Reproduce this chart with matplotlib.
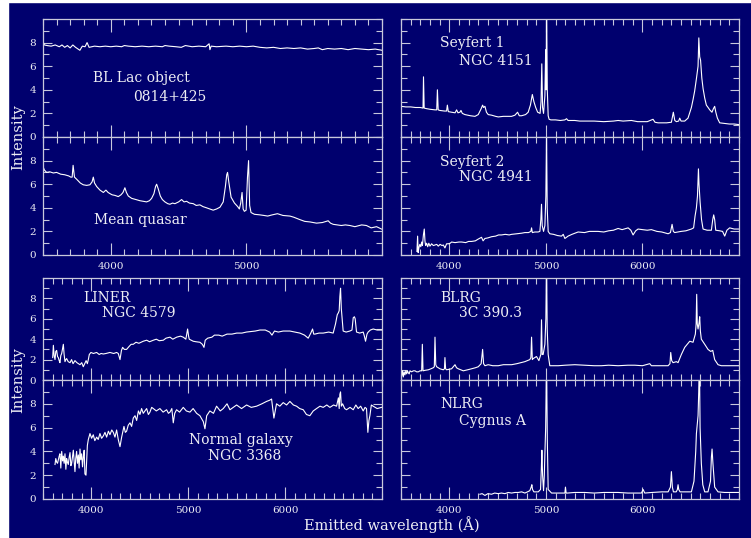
import numpy as np
import matplotlib.pyplot as plt
from matplotlib.ticker import MultipleLocator
from matplotlib.patches import Rectangle

# spectra (wavelength in Angstrom, intensity)
bllac_wave = [3500, 3510, 3530, 3560, 3590, 3620, 3640, 3660, 3680, 3700, 3720, 3740, 3772, 3790,
              3810, 3825, 3840, 3880, 3920, 3960, 4000, 4040, 4080, 4100, 4130, 4180, 4230, 4280,
              4330, 4380, 4400, 4430, 4480, 4520, 4550, 4600, 4650, 4700, 4725, 4731, 4740, 4780,
              4850, 4900, 4950, 5000, 5050, 5100, 5150, 5200, 5250, 5300, 5350, 5400, 5450, 5500,
              5530, 5560, 5600, 5650, 5700, 5750, 5800, 5850, 5900, 5950, 6000]
bllac_flux = [8.1, 7.8, 7.75, 7.7, 7.8, 7.65, 7.8, 7.6, 7.75, 7.55, 7.8, 7.6, 7.35, 7.7,
              7.65, 8.0, 7.6, 7.7, 7.65, 7.7, 7.65, 7.7, 7.65, 7.75, 7.7, 7.65, 7.7, 7.65,
              7.7, 7.65, 7.75, 7.7, 7.65, 7.6, 7.75, 7.65, 7.7, 7.65, 7.9, 7.4, 7.7, 7.65,
              7.7, 7.65, 7.7, 7.65, 7.7, 7.6, 7.55, 7.6, 7.5, 7.55, 7.5, 7.55, 7.45, 7.5,
              7.55, 7.4, 7.5, 7.45, 7.5, 7.4, 7.5, 7.45, 7.4, 7.45, 7.35]

quasar_wave = [3500, 3510, 3527, 3550, 3576, 3600, 3630, 3660, 3690, 3705, 3715, 3722, 3732, 3750,
               3775, 3797, 3822, 3846, 3862, 3871, 3880, 3896, 3920, 3945, 3964, 3980, 3994, 4010,
               4031, 4055, 4075, 4090, 4104, 4115, 4129, 4154, 4185, 4215, 4240, 4264, 4285, 4301,
               4318, 4330, 4338, 4350, 4365, 4380, 4399, 4420, 4436, 4455, 4473, 4500, 4522, 4540,
               4559, 4580, 4608, 4630, 4657, 4680, 4706, 4730, 4755, 4780, 4805, 4829, 4845, 4855,
               4861, 4870, 4887, 4912, 4936, 4948, 4958, 4968, 4976, 4985, 4998, 5008, 5016, 5024,
               5034, 5059, 5100, 5130, 5157, 5190, 5229, 5270, 5321, 5350, 5394, 5430, 5470, 5517,
               5560, 5603, 5620, 5640, 5700, 5730, 5763, 5800, 5850, 5885, 5920, 5960, 5996]
quasar_flux = [7.5, 7.2, 7.0, 7.05, 6.95, 7.0, 6.85, 6.8, 6.7, 6.6, 6.6, 7.6, 6.6, 6.4,
               6.1, 5.95, 5.9, 5.95, 6.2, 6.6, 6.1, 5.8, 5.5, 5.3, 5.5, 5.3, 5.2, 5.1,
               5.05, 4.95, 5.1, 5.3, 5.7, 5.3, 5.0, 4.8, 4.7, 4.6, 4.55, 4.5, 4.6, 4.8,
               5.2, 5.8, 6.0, 5.6, 5.0, 4.7, 4.5, 4.35, 4.3, 4.4, 4.35, 4.5, 4.7, 4.5,
               4.55, 4.4, 4.35, 4.2, 4.25, 4.1, 4.0, 3.9, 3.8, 3.9, 4.05, 4.5, 5.8, 6.8,
               7.0, 6.2, 4.9, 4.4, 4.1, 3.9, 4.4, 5.3, 3.9, 3.7, 3.8, 6.6, 8.0, 4.2,
               3.6, 3.45, 3.4, 3.35, 3.3, 3.4, 3.5, 3.35, 3.3, 3.2, 3.0, 2.85, 2.8, 2.7,
               2.75, 2.9, 2.7, 2.6, 2.5, 2.55, 2.5, 2.4, 2.55, 2.5, 2.3, 2.4, 2.2]

sy1_wave = [3500, 3550, 3600, 3650, 3700, 3728, 3733, 3740, 3766, 3800, 3852, 3870, 3877, 3885,
            3903, 3950, 3972, 3980, 3990, 4024, 4060, 4076, 4090, 4110, 4121, 4135, 4162, 4220,
            4266, 4300, 4330, 4345, 4355, 4369, 4385, 4403, 4438, 4480, 4507, 4560, 4645, 4680,
            4707, 4725, 4748, 4790, 4817, 4840, 4860, 4876, 4895, 4915, 4940, 4950, 4958, 4966,
            4976, 4990, 4998, 5003, 5007, 5015, 5024, 5034, 5052, 5100, 5150, 5197, 5214, 5230,
            5300, 5350, 5403, 5500, 5600, 5700, 5748, 5800, 5886, 5950, 5990, 6050, 6110, 6130,
            6162, 6250, 6300, 6320, 6335, 6352, 6375, 6386, 6400, 6438, 6472, 6507, 6525, 6541,
            6560, 6576, 6584, 6593, 6602, 6615, 6628, 6645, 6662, 6680, 6697, 6720, 6735, 6748,
            6760, 6776, 6800, 6850, 6900, 6950, 7000]
sy1_flux = [2.6, 2.55, 2.55, 2.5, 2.5, 2.45, 5.1, 2.45, 2.4, 2.35, 2.3, 2.3, 4.0, 2.3,
            2.25, 2.2, 2.2, 2.7, 2.15, 2.1, 2.05, 2.3, 2.05, 2.1, 2.25, 2.0, 1.9, 1.8,
            1.75, 1.9, 2.4, 2.7, 2.5, 2.6, 2.1, 1.9, 1.85, 1.75, 1.7, 1.75, 1.75, 1.85,
            2.1, 1.8, 1.8, 1.9, 2.1, 2.7, 3.6, 3.0, 2.5, 2.1, 2.0, 3.0, 6.2, 2.5,
            2.0, 3.5, 7.4, 4.0, 12.0, 4.0, 1.8, 1.5, 1.45, 1.45, 1.4, 1.45, 1.55, 1.4,
            1.4, 1.35, 1.35, 1.35, 1.3, 1.35, 1.4, 1.35, 1.4, 1.3, 1.3, 1.3, 1.5, 1.25,
            1.2, 1.2, 1.25, 2.1, 1.4, 1.3, 1.35, 1.6, 1.35, 1.35, 1.6, 2.5, 3.2, 3.9,
            5.0, 6.0, 8.4, 6.8, 6.5, 5.0, 4.1, 3.3, 2.7, 2.5, 2.3, 2.1, 2.4, 2.6,
            2.1, 1.6, 1.2, 1.15, 1.1, 1.1, 1.05]

sy2_wave = [3665, 3672, 3678, 3685, 3695, 3705, 3714, 3722, 3732, 3741, 3748, 3755, 3765, 3776,
            3788, 3800, 3817, 3835, 3852, 3870, 3886, 3905, 3925, 3938, 3955, 3972, 3990, 4010,
            4024, 4060, 4100, 4128, 4170, 4200, 4231, 4270, 4300, 4334, 4350, 4369, 4400, 4438,
            4480, 4510, 4541, 4580, 4620, 4645, 4700, 4750, 4783, 4820, 4845, 4852, 4860, 4886,
            4920, 4938, 4948, 4955, 4962, 4976, 4990, 5000, 5007, 5014, 5024, 5041, 5080, 5120,
            5162, 5180, 5197, 5230, 5270, 5334, 5400, 5450, 5541, 5600, 5650, 5700, 5748, 5790,
            5852, 5880, 5903, 5930, 5955, 6000, 6050, 6093, 6150, 6200, 6266, 6290, 6307, 6320,
            6334, 6400, 6450, 6507, 6530, 6545, 6559, 6570, 6580, 6586, 6597, 6612, 6628, 6670,
            6714, 6728, 6738, 6748, 6759, 6800, 6830, 6852, 6875, 6903, 6950, 7000]
sy2_flux = [0.3, 1.6, 0.2, 0.6, 0.9, 0.7, 1.1, 0.8, 1.7, 2.2, 1.2, 0.8, 1.0, 0.7,
            1.0, 0.75, 0.95, 0.8, 0.85, 0.9, 0.75, 0.9, 0.8, 0.85, 0.6, 0.95, 0.95, 1.0,
            1.1, 1.05, 1.1, 1.1, 1.05, 1.15, 1.15, 1.2, 1.35, 1.5, 1.2, 1.4, 1.45, 1.55,
            1.6, 1.7, 1.7, 1.75, 1.7, 1.75, 1.8, 1.85, 1.9, 1.9, 2.0, 2.3, 1.9, 1.95,
            1.95, 2.0, 3.0, 4.3, 2.5, 2.0, 2.5, 5.0, 10.5, 4.0, 2.0, 1.8, 1.75, 1.65,
            1.6, 1.75, 1.4, 1.6, 1.75, 1.95, 1.9, 2.0, 2.0, 1.95, 2.05, 2.1, 2.25, 2.15,
            2.3, 2.1, 1.7, 2.05, 2.2, 2.15, 2.1, 2.15, 2.0, 1.95, 1.8, 1.9, 2.6, 2.0,
            1.9, 2.0, 2.05, 2.2, 2.3, 3.3, 4.0, 5.0, 7.3, 6.0, 4.5, 3.0, 2.2, 2.1,
            2.1, 3.0, 3.4, 3.0, 2.1, 2.05, 2.0, 1.6, 2.1, 2.3, 2.2, 2.2]

liner_wave = [3600, 3607, 3615, 3624, 3632, 3641, 3650, 3658, 3667, 3675, 3684, 3693, 3702, 3710,
              3718, 3727, 3736, 3744, 3760, 3779, 3795, 3810, 3830, 3850, 3866, 3882, 3900, 3916,
              3930, 3945, 3958, 3968, 3978, 3995, 4020, 4054, 4080, 4100, 4123, 4150, 4191, 4230,
              4260, 4277, 4295, 4310, 4322, 4340, 4363, 4390, 4410, 4432, 4460, 4490, 4535, 4570,
              4600, 4639, 4670, 4700, 4742, 4770, 4811, 4840, 4880, 4920, 4948, 4975, 4993, 5003,
              5010, 5030, 5051, 5080, 5120, 5145, 5162, 5175, 5200, 5244, 5270, 5314, 5350, 5400,
              5451, 5500, 5554, 5600, 5650, 5692, 5740, 5795, 5840, 5864, 5890, 5929, 5980, 6049,
              6100, 6152, 6200, 6238, 6265, 6283, 6295, 6307, 6350, 6393, 6450, 6496, 6520, 6538,
              6550, 6558, 6565, 6572, 6580, 6589, 6599, 6630, 6668, 6690, 6703, 6715, 6723, 6737,
              6770, 6806, 6818, 6830, 6845, 6857, 6880, 6909, 6950, 6995]
liner_flux = [2.2, 3.4, 2.4, 2.0, 2.8, 2.9, 2.3, 2.2, 1.9, 1.7, 2.4, 2.6, 3.1, 3.5,
              2.5, 1.8, 2.0, 2.1, 1.8, 1.7, 2.0, 1.6, 1.9, 1.7, 1.6, 1.5, 1.7, 1.3,
              1.6, 1.9, 1.6, 2.0, 2.5, 2.7, 2.6, 2.7, 2.5, 2.6, 2.55, 2.6, 2.7, 2.6,
              2.7, 2.6, 2.0, 2.9, 3.2, 3.0, 3.0, 3.3, 3.5, 3.5, 3.7, 3.6, 3.8, 3.9,
              3.75, 3.9, 4.0, 3.85, 3.9, 4.1, 4.2, 4.0, 4.2, 4.3, 4.2, 4.0, 5.0, 4.3,
              4.0, 3.9, 3.8, 3.75, 3.7, 3.5, 3.2, 3.9, 4.1, 4.2, 4.4, 4.4, 4.3, 4.5,
              4.5, 4.6, 4.6, 4.7, 4.75, 4.8, 4.9, 4.9, 4.7, 4.4, 4.8, 4.7, 4.8, 4.8,
              4.7, 4.6, 4.4, 4.1, 4.6, 5.0, 4.5, 4.5, 4.6, 4.6, 4.7, 4.6, 5.5, 6.4,
              6.6, 6.8, 8.2, 9.0, 7.0, 6.0, 4.8, 4.7, 4.8, 4.9, 6.1, 6.2, 6.0, 4.7,
              4.6, 4.7, 4.3, 3.8, 4.5, 4.7, 4.9, 5.0, 4.9, 4.9]

galaxy_wave = [3624, 3632, 3641, 3650, 3658, 3667, 3675, 3684, 3693, 3702, 3710, 3718, 3727, 3736,
               3744, 3752, 3761, 3770, 3779, 3788, 3796, 3805, 3813, 3822, 3830, 3838, 3847, 3856,
               3865, 3873, 3882, 3890, 3899, 3908, 3916, 3925, 3933, 3944, 3958, 3968, 3985, 4002,
               4019, 4035, 4054, 4070, 4088, 4105, 4123, 4140, 4157, 4175, 4191, 4210, 4226, 4243,
               4260, 4277, 4295, 4312, 4336, 4350, 4363, 4380, 4398, 4415, 4432, 4450, 4467, 4485,
               4501, 4518, 4535, 4552, 4570, 4588, 4604, 4622, 4639, 4670, 4707, 4740, 4776, 4795,
               4811, 4830, 4845, 4860, 4879, 4910, 4948, 4980, 5017, 5050, 5086, 5120, 5155, 5172,
               5190, 5223, 5260, 5292, 5330, 5361, 5400, 5430, 5465, 5499, 5550, 5602, 5650, 5705,
               5760, 5808, 5840, 5860, 5884, 5911, 5945, 5980, 6015, 6049, 6085, 6118, 6150, 6187,
               6220, 6255, 6290, 6324, 6360, 6393, 6430, 6462, 6500, 6531, 6550, 6558, 6565, 6572,
               6580, 6593, 6615, 6634, 6670, 6703, 6730, 6754, 6780, 6806, 6825, 6840, 6854, 6865,
               6875, 6890, 6909, 6950, 6995]
galaxy_flux = [2.9, 3.4, 3.1, 3.0, 3.3, 3.6, 3.8, 2.6, 4.0, 3.2, 3.6, 3.0, 3.8, 2.5,
               3.4, 3.1, 2.9, 3.5, 3.9, 2.8, 3.0, 3.6, 4.1, 3.2, 2.3, 3.4, 4.0, 3.0,
               3.7, 2.6, 4.2, 3.3, 3.8, 2.7, 3.5, 4.1, 2.1, 2.0, 4.5, 5.0, 5.5, 5.1,
               5.4, 4.9, 5.2, 5.0, 5.5, 5.1, 5.3, 5.6, 5.2, 5.7, 5.4, 5.8, 5.6, 5.2,
               5.8, 5.0, 4.4, 5.2, 6.1, 5.6, 5.7, 6.2, 6.4, 6.1, 6.8, 7.0, 6.6, 7.4,
               7.1, 7.6, 7.2, 7.4, 7.6, 7.1, 7.3, 7.7, 7.6, 7.4, 7.6, 7.3, 7.5, 7.2,
               7.3, 7.6, 6.4, 7.2, 7.5, 7.3, 7.7, 7.4, 7.3, 7.6, 7.2, 7.0, 6.5, 5.9,
               7.0, 7.4, 7.2, 7.8, 7.4, 7.6, 8.0, 7.5, 7.7, 7.9, 7.6, 7.9, 7.7, 7.8,
               8.0, 8.2, 8.3, 8.4, 6.8, 8.0, 7.8, 8.1, 7.9, 8.2, 7.9, 7.8, 7.6, 7.5,
               7.1, 7.0, 7.4, 7.6, 7.8, 7.7, 7.9, 7.7, 7.9, 7.8, 8.5, 7.6, 8.8, 9.0,
               7.8, 8.0, 7.6, 7.5, 7.7, 7.5, 7.9, 7.6, 7.8, 7.4, 7.7, 7.6, 5.6, 6.6,
               7.0, 7.9, 7.8, 7.6, 7.7]

blrg_wave = [3500, 3507, 3515, 3524, 3532, 3541, 3550, 3559, 3567, 3576, 3585, 3593, 3610, 3628,
             3645, 3662, 3679, 3697, 3714, 3721, 3728, 3750, 3783, 3810, 3834, 3845, 3852, 3860,
             3869, 3903, 3938, 3950, 3955, 3962, 3972, 4024, 4059, 4075, 4093, 4145, 4190, 4231,
             4270, 4300, 4330, 4345, 4355, 4369, 4403, 4450, 4507, 4560, 4645, 4700, 4783, 4834,
             4845, 4852, 4860, 4869, 4903, 4928, 4948, 4955, 4962, 4972, 4990, 5000, 5007, 5014,
             5024, 5041, 5080, 5128, 5200, 5300, 5400, 5500, 5576, 5650, 5748, 5850, 5921, 6000,
             6076, 6093, 6150, 6266, 6285, 6293, 6303, 6317, 6352, 6369, 6403, 6438, 6490, 6524,
             6548, 6556, 6562, 6568, 6576, 6586, 6593, 6600, 6610, 6645, 6679, 6707, 6728, 6748,
             6783, 6817, 6900, 7000]
blrg_flux = [0.9, 0.4, 0.9, 0.3, 0.8, 0.5, 0.9, 0.6, 0.9, 0.7, 0.6, 0.9, 0.8, 0.9,
             0.9, 0.8, 0.8, 0.9, 0.9, 3.5, 0.9, 0.95, 1.0, 1.1, 1.2, 1.3, 4.2, 1.5,
             1.3, 1.1, 1.0, 1.1, 2.2, 1.1, 1.0, 1.1, 1.5, 1.2, 1.1, 0.9, 1.0, 1.1,
             1.2, 1.3, 1.6, 3.0, 1.6, 1.4, 1.5, 1.4, 1.4, 1.5, 1.5, 1.6, 1.8, 2.0,
             2.2, 4.2, 2.0, 2.1, 2.3, 1.9, 2.5, 5.9, 2.5, 2.5, 3.5, 6.0, 12.0, 5.0,
             2.5, 1.4, 1.4, 1.4, 1.45, 1.5, 1.45, 1.4, 1.4, 1.45, 1.4, 1.45, 1.45, 1.4,
             1.6, 1.4, 1.4, 1.4, 1.6, 2.7, 1.9, 1.7, 1.8, 1.7, 2.5, 3.2, 3.8, 3.7,
             4.5, 5.5, 8.4, 5.5, 5.0, 5.6, 6.2, 4.8, 4.0, 3.5, 3.0, 2.8, 2.9, 2.0,
             1.5, 1.4, 1.4, 1.4]

nlrg_wave = [4317, 4340, 4369, 4400, 4438, 4470, 4507, 4540, 4576, 4610, 4645, 4680, 4714, 4750,
             4783, 4810, 4834, 4848, 4855, 4862, 4876, 4900, 4921, 4945, 4953, 4959, 4966, 4976,
             4984, 4990, 4998, 5007, 5015, 5024, 5059, 5120, 5197, 5203, 5210, 5224, 5300, 5403,
             5500, 5600, 5748, 5850, 5990, 6007, 6024, 6100, 6200, 6266, 6290, 6300, 6310, 6321,
             6350, 6362, 6369, 6376, 6390, 6450, 6507, 6534, 6552, 6559, 6576, 6583, 6590, 6597,
             6610, 6625, 6645, 6679, 6705, 6714, 6721, 6730, 6748, 6783, 6850, 6920, 7000]
nlrg_flux = [0.4, 0.45, 0.3, 0.45, 0.4, 0.5, 0.45, 0.5, 0.45, 0.55, 0.5, 0.55, 0.55, 0.6,
             0.5, 0.6, 0.7, 1.0, 1.2, 0.8, 0.6, 0.6, 0.6, 0.8, 2.5, 4.1, 2.0, 0.7,
             2.0, 3.8, 6.0, 12.0, 5.0, 0.8, 0.5, 0.5, 0.5, 1.0, 0.5, 0.5, 0.55, 0.55,
             0.5, 0.55, 0.55, 0.5, 0.5, 0.8, 0.5, 0.55, 0.6, 0.6, 1.0, 2.3, 1.0, 0.6,
             0.6, 0.8, 1.2, 0.8, 0.6, 0.6, 0.6, 1.5, 4.0, 5.5, 7.0, 9.0, 12.0, 6.0,
             3.0, 1.2, 0.6, 0.6, 1.5, 3.5, 4.2, 3.0, 1.0, 0.6, 0.55, 0.55, 0.55]

panel_text = {
    'bllac': ('BL Lac object', '0814+425'),
    'quasar': ('Mean quasar', None),
    'sy1': ('Seyfert 1', 'NGC 4151'),
    'sy2': ('Seyfert 2', 'NGC 4941'),
    'liner': ('LINER', 'NGC 4579'),
    'galaxy': ('Normal galaxy', 'NGC 3368'),
    'blrg': ('BLRG', '3C 390.3'),
    'nlrg': ('NLRG', 'Cygnus A'),
}

NAVY = '#00006e'
FRAME = '#c8c8dc'
TEXT = '#eeeef4'
W, H = 751.0, 538.0

plt.rcParams['font.family'] = ['DejaVu Serif']

fig = plt.figure(figsize=(7.51, 5.38), dpi=100, facecolor=NAVY)
# white margin strips of the original scan
fig.patches.append(Rectangle((0, 0), 8 / W, 1, transform=fig.transFigure, color='white', zorder=-1))
fig.patches.append(Rectangle((0, 1 - 2 / H), 1, 2 / H, transform=fig.transFigure, color='white', zorder=-1))


def make_axes(x0, x1, y_top, y_bot, xmax, xlabels, ylabels):
    ax = fig.add_axes([x0 / W, 1 - y_bot / H, (x1 - x0) / W, (y_bot - y_top) / H])
    ax.set_facecolor(NAVY)
    ax.set_xlim(3500, xmax)
    ax.set_ylim(0, 10)
    # labelled wavelengths stay inside the frame edges
    ax.set_xticks([t for t in (4000, 5000, 6000) if t < xmax])
    ax.xaxis.set_minor_locator(MultipleLocator(100))
    ax.set_yticks([0, 2, 4, 6, 8])
    ax.yaxis.set_minor_locator(MultipleLocator(1))
    for s in ax.spines.values():
        s.set_color(FRAME)
        s.set_linewidth(0.9)
    ax.tick_params(which='both', direction='in', top=True, right=True, colors=FRAME,
                   labelcolor=TEXT, labelsize=7.5, width=0.8)
    ax.tick_params(axis='x', which='major', length=9, pad=5)
    ax.tick_params(axis='x', which='minor', length=4.5)
    ax.tick_params(axis='y', which='major', length=6.5, pad=5)
    ax.tick_params(axis='y', which='minor', length=4)
    if not xlabels:
        ax.set_xticklabels([])
    if not ylabels:
        ax.set_yticklabels([])
    return ax


def draw(ax, wave, flux, key, pos1, pos2):
    ax.plot(wave, flux, color='white', lw=0.8, clip_on=True)
    t1, t2 = panel_text[key]
    ax.text(pos1[0], pos1[1], t1, transform=ax.transAxes, color=TEXT, fontsize=10, va='center')
    if t2:
        ax.text(pos2[0], pos2[1], t2, transform=ax.transAxes, color=TEXT, fontsize=10, va='center')


LX0, LX1 = 43, 382
RX0, RX1 = 401, 739

ax = make_axes(LX0, LX1, 19, 137, 6000, False, True)
draw(ax, bllac_wave, bllac_flux, 'bllac', (0.147, 0.50), (0.265, 0.34))
ax = make_axes(LX0, LX1, 137, 255, 6000, True, True)
draw(ax, quasar_wave, quasar_flux, 'quasar', (0.15, 0.30), None)

ax = make_axes(RX0, RX1, 19, 137, 7000, False, False)
draw(ax, sy1_wave, sy1_flux, 'sy1', (0.115, 0.80), (0.172, 0.645))
ax = make_axes(RX0, RX1, 137, 255, 7000, True, False)
draw(ax, sy2_wave, sy2_flux, 'sy2', (0.115, 0.79), (0.172, 0.66))

ax = make_axes(LX0, LX1, 278, 380, 7000, False, True)
draw(ax, liner_wave, liner_flux, 'liner', (0.118, 0.80), (0.174, 0.657))
ax = make_axes(LX0, LX1, 380, 499, 7000, True, True)
draw(ax, galaxy_wave, galaxy_flux, 'galaxy', (0.43, 0.496), (0.487, 0.36))

ax = make_axes(RX0, RX1, 278, 380, 7000, False, False)
draw(ax, blrg_wave, blrg_flux, 'blrg', (0.115, 0.80), (0.172, 0.657))
ax = make_axes(RX0, RX1, 380, 499, 7000, True, False)
draw(ax, nlrg_wave, nlrg_flux, 'nlrg', (0.115, 0.80), (0.172, 0.655))

fig.text(18 / W, 1 - 137 / H, 'Intensity', rotation=90, color=TEXT, fontsize=10.5,
         ha='center', va='center')
fig.text(18 / W, 1 - 380 / H, 'Intensity', rotation=90, color=TEXT, fontsize=10.5,
         ha='center', va='center')
fig.text(392 / W, 1 - 525 / H, 'Emitted wavelength (Å)', color=TEXT, fontsize=10.5,
         ha='center', va='center')

fig.savefig('out.png', dpi=100, facecolor=NAVY)
